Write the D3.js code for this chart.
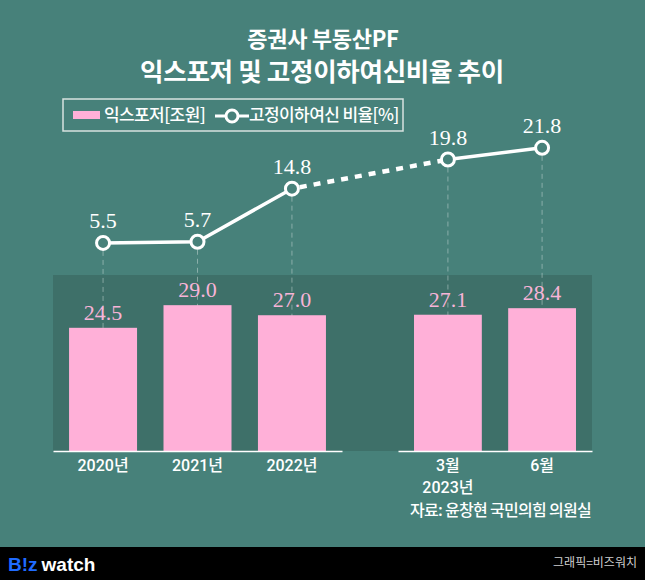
<!DOCTYPE html>
<html><head><meta charset="utf-8">
<script src="https://cdn.jsdelivr.net/npm/d3@7"></script>
<style>
html,body{margin:0;padding:0;background:#47817a;}
svg{display:block;}
</style></head>
<body>
<svg id="chart" width="645" height="580"></svg>
<script>
// ---- data ----
const groupA = ["2020년", "2021년", "2022년"];
const groupB = ["3월", "6월"];
const groupBLabel = "2023년";
const exposure = [24.5, 29.0, 27.0, 27.1, 28.4];      // 익스포저 [조원]
const ratio = [5.5, 5.7, 14.8, 19.8, 21.8];            // 고정이하여신 비율 [%]
const titleLines = ["증권사 부동산PF", "익스포저 및 고정이하여신비율 추이"];
const legendLabels = ["익스포저[조원]", "고정이하여신 비율[%]"];
const sourceText = "자료: 윤창현 국민의힘 의원실";
const creditText = "그래픽=비즈워치";

// ---- setup ----
const W = 645, H = 580;
const BG = "#47817a", PLOT = "#3e7069", PINK = "#ffb0d8", PINKTXT = "#f8b4d8";
const KR = "'Noto Sans CJK KR','Noto Sans',sans-serif";
const AX = "Roboto,'Noto Sans CJK KR',sans-serif";
const SERIF = "'Liberation Serif','DejaVu Serif',serif";
const svg = d3.select("#chart");

svg.append("rect").attr("width", W).attr("height", H).attr("fill", BG);

const plot = {left: 53, right: 592, top: 275, bottom: 451};
const gapStart = 342, gapEnd = 398;

const xA = d3.scaleBand().domain(groupA).range([plot.left, gapStart]).paddingInner(0.28).paddingOuter(0.17);
const xB = d3.scaleBand().domain(groupB).range([gapEnd, plot.right]).paddingInner(0.28).paddingOuter(0.17);
const cats = groupA.concat(groupB);
const xPos = c => groupA.includes(c) ? xA(c) : xB(c);
const bw = c => groupA.includes(c) ? xA.bandwidth() : xB.bandwidth();
const xc = c => xPos(c) + bw(c) / 2;

const yBar = d3.scaleLinear().domain([0, 35]).range([plot.bottom, plot.top]);
const yLine = d3.scaleLinear().domain([0, 30]).range([plot.top, 100]);

// plot area
svg.append("rect").attr("x", plot.left).attr("y", plot.top)
  .attr("width", plot.right - plot.left).attr("height", plot.bottom - plot.top)
  .attr("fill", PLOT);

const data = cats.map((c, i) => ({c, bar: exposure[i], r: ratio[i]}));

// dashed guides
svg.append("g").selectAll("line").data(data).join("line")
  .attr("x1", d => xc(d.c)).attr("x2", d => xc(d.c))
  .attr("y1", d => yLine(d.r) + 8).attr("y2", plot.bottom)
  .attr("stroke", "rgba(220,230,228,0.45)").attr("stroke-width", 1)
  .attr("stroke-dasharray", "5,4");

// bars
svg.append("g").selectAll("rect").data(data).join("rect")
  .attr("x", d => xPos(d.c)).attr("width", d => bw(d.c))
  .attr("y", d => yBar(d.bar)).attr("height", d => plot.bottom - yBar(d.bar))
  .attr("fill", PINK);

// bar labels
svg.append("g").selectAll("text").data(data).join("text")
  .attr("x", d => xc(d.c)).attr("y", d => yBar(d.bar) - 8)
  .attr("text-anchor", "middle").attr("font-family", SERIF).attr("font-size", 22)
  .attr("fill", PINKTXT).text(d => d.bar.toFixed(1));

// baselines + category labels
const axA = svg.append("g").attr("transform", `translate(0,${plot.bottom})`)
  .call(d3.axisBottom(xA).tickSize(0).tickPadding(7));
const axB = svg.append("g").attr("transform", `translate(0,${plot.bottom})`)
  .call(d3.axisBottom(xB).tickSize(0).tickPadding(7));
[axA, axB].forEach(ax => {
  ax.select(".domain").attr("stroke", "#fff").attr("stroke-width", 1.5);
  ax.selectAll("text").attr("font-family", AX).attr("font-size", 16).attr("font-weight", 500)
    .attr("fill", "#fff").attr("dy", "0.8em");
});
svg.append("text").attr("x", xc(groupB[0])).attr("y", 493)
  .attr("text-anchor", "middle").attr("font-family", AX).attr("font-size", 16).attr("font-weight", 500)
  .attr("fill", "#fff").text(groupBLabel);

// line segments
const lineGen = d3.line().x(d => xc(d.c)).y(d => yLine(d.r));
const seg1 = data.slice(0, 3), seg2 = data.slice(2, 4), seg3 = data.slice(3, 5);
svg.append("path").datum(seg1).attr("d", lineGen).attr("fill", "none")
  .attr("stroke", "#fff").attr("stroke-width", 3.5).attr("stroke-linejoin", "round");
svg.append("path").datum(seg2).attr("d", lineGen).attr("fill", "none")
  .attr("stroke", "#fff").attr("stroke-width", 4.5).attr("stroke-dasharray", "7,7")
  .attr("stroke-dashoffset", -8);
svg.append("path").datum(seg3).attr("d", lineGen).attr("fill", "none")
  .attr("stroke", "#fff").attr("stroke-width", 3.5);

svg.append("g").selectAll("circle").data(data).join("circle")
  .attr("cx", d => xc(d.c)).attr("cy", d => yLine(d.r)).attr("r", 6.5)
  .attr("fill", BG).attr("stroke", "#fff").attr("stroke-width", 3);

svg.append("g").selectAll("text").data(data).join("text")
  .attr("x", d => xc(d.c)).attr("y", d => yLine(d.r) - 15)
  .attr("text-anchor", "middle").attr("font-family", SERIF).attr("font-size", 22)
  .attr("fill", "#fff").text(d => d.r.toFixed(1));

// title
svg.append("text").attr("x", 323).attr("y", 47).attr("text-anchor", "middle")
  .attr("font-family", KR).attr("font-weight", 700).attr("font-size", 22)
  .attr("letter-spacing", -0.3).attr("fill", "#fff").text(titleLines[0]);
svg.append("text").attr("x", 322).attr("y", 81).attr("text-anchor", "middle")
  .attr("font-family", KR).attr("font-weight", 700).attr("font-size", 25.5)
  .attr("letter-spacing", -0.3).attr("fill", "#fff").text(titleLines[1]);

// legend
const lg = svg.append("g");
lg.append("rect").attr("x", 63).attr("y", 99).attr("width", 340).attr("height", 32)
  .attr("fill", "none").attr("stroke", "#d8e2e0").attr("stroke-width", 1.5);
lg.append("rect").attr("x", 73).attr("y", 111).attr("width", 27).attr("height", 8).attr("fill", PINK);
lg.append("text").attr("x", 104).attr("y", 121).attr("font-family", KR).attr("font-size", 17)
  .attr("font-weight", 500).attr("letter-spacing", -0.6).attr("fill", "#fff").text(legendLabels[0]);
lg.append("line").attr("x1", 215).attr("x2", 249).attr("y1", 116).attr("y2", 116)
  .attr("stroke", "#fff").attr("stroke-width", 3);
lg.append("circle").attr("cx", 232).attr("cy", 116).attr("r", 6)
  .attr("fill", BG).attr("stroke", "#fff").attr("stroke-width", 3);
lg.append("text").attr("x", 249).attr("y", 121).attr("font-family", KR).attr("font-size", 17)
  .attr("font-weight", 500).attr("letter-spacing", -0.6).attr("fill", "#fff").text(legendLabels[1]);

// source
svg.append("text").attr("x", 591).attr("y", 516).attr("text-anchor", "end")
  .attr("font-family", KR).attr("font-size", 16).attr("font-weight", 500).attr("letter-spacing", -0.7)
  .attr("fill", "#fff").text(sourceText);

// footer
svg.append("rect").attr("x", 0).attr("y", 547).attr("width", W).attr("height", H - 547).attr("fill", "#000");
const logo = svg.append("text").attr("x", 8).attr("y", 571)
  .attr("font-family", "'Liberation Sans',Arial,sans-serif").attr("font-weight", 700).attr("font-size", 19);
logo.append("tspan").attr("fill", "#1f6bff").text("B!z");
logo.append("tspan").attr("fill", "#fff").attr("dx", 4).text("watch");
svg.append("text").attr("x", 637).attr("y", 567).attr("text-anchor", "end")
  .attr("font-family", KR).attr("font-size", 12).attr("fill", "#cfcfcf").text(creditText);
</script>
</body></html>
